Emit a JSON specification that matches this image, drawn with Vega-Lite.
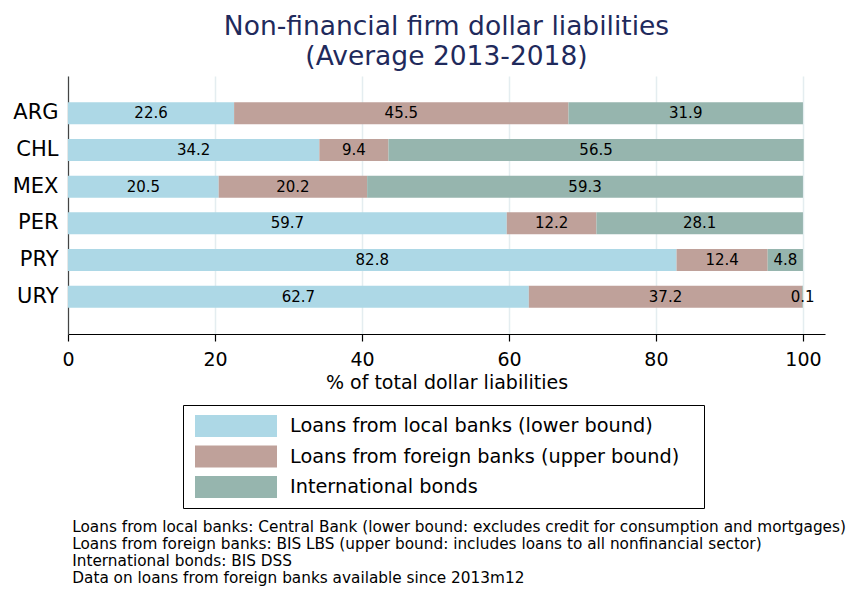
{
  "$schema": "https://vega.github.io/schema/vega-lite/v6.json",
  "background": "white",
  "padding": {"left": 12, "top": 13, "right": 0, "bottom": 0},
  "config": {
    "font": "DejaVu Sans",
    "view": {"stroke": null},
    "concat": {"spacing": 0}
  },
  "title": {
    "text": [
      "Loans from local banks: Central Bank (lower bound: excludes credit for consumption and mortgages)",
      "Loans from foreign banks: BIS LBS (upper bound: includes loans to all nonfinancial sector)",
      "International bonds: BIS DSS",
      "Data on loans from foreign banks available since 2013m12"
    ],
    "orient": "bottom",
    "anchor": "start",
    "frame": "bounds",
    "dx": 60,
    "offset": 11,
    "fontSize": 15.3,
    "fontWeight": "normal",
    "color": "black",
    "lineHeight": 17.3,
    "font": "DejaVu Sans"
  },
  "vconcat": [
    {
      "title": {
        "text": ["Non-financial firm dollar liabilities", "(Average 2013-2018)"],
        "fontSize": 26.5,
        "fontWeight": "normal",
        "color": "#1f2a5c",
        "lineHeight": 30,
        "anchor": "middle",
        "frame": "group",
        "offset": 6,
        "font": "DejaVu Sans"
      },
      "width": 757,
      "height": 258,
      "data": {
        "values": [
          {"country": "ARG", "source": "Loans from local banks (lower bound)", "k": 1, "share": 22.6},
          {"country": "ARG", "source": "Loans from foreign banks (upper bound)", "k": 2, "share": 45.5},
          {"country": "ARG", "source": "International bonds", "k": 3, "share": 31.9},
          {"country": "CHL", "source": "Loans from local banks (lower bound)", "k": 1, "share": 34.2},
          {"country": "CHL", "source": "Loans from foreign banks (upper bound)", "k": 2, "share": 9.4},
          {"country": "CHL", "source": "International bonds", "k": 3, "share": 56.5},
          {"country": "MEX", "source": "Loans from local banks (lower bound)", "k": 1, "share": 20.5},
          {"country": "MEX", "source": "Loans from foreign banks (upper bound)", "k": 2, "share": 20.2},
          {"country": "MEX", "source": "International bonds", "k": 3, "share": 59.3},
          {"country": "PER", "source": "Loans from local banks (lower bound)", "k": 1, "share": 59.7},
          {"country": "PER", "source": "Loans from foreign banks (upper bound)", "k": 2, "share": 12.2},
          {"country": "PER", "source": "International bonds", "k": 3, "share": 28.1},
          {"country": "PRY", "source": "Loans from local banks (lower bound)", "k": 1, "share": 82.8},
          {"country": "PRY", "source": "Loans from foreign banks (upper bound)", "k": 2, "share": 12.4},
          {"country": "PRY", "source": "International bonds", "k": 3, "share": 4.8},
          {"country": "URY", "source": "Loans from local banks (lower bound)", "k": 1, "share": 62.7},
          {"country": "URY", "source": "Loans from foreign banks (upper bound)", "k": 2, "share": 37.2},
          {"country": "URY", "source": "International bonds", "k": 3, "share": 0.1}
        ]
      },
      "encoding": {
        "y": {
          "field": "country",
          "type": "nominal",
          "sort": ["ARG", "CHL", "MEX", "PER", "PRY", "URY"],
          "scale": {"paddingInner": 0.4, "paddingOuter": 0.715},
          "axis": {
            "title": null,
            "ticks": false,
            "tickSize": 0,
            "grid": false,
            "domainColor": "#444444",
            "domainWidth": 1.2,
            "labelFontSize": 21,
            "labelColor": "black",
            "labelPadding": 10,
            "labelFont": "DejaVu Sans"
          }
        }
      },
      "layer": [
        {
          "mark": {"type": "bar"},
          "encoding": {
            "x": {
              "field": "share",
              "type": "quantitative",
              "stack": "zero",
              "scale": {"domain": [0, 103], "nice": false},
              "axis": {
                "title": "% of total dollar liabilities",
                "values": [0, 20, 40, 60, 80, 100],
                "grid": true,
                "gridColor": "#e4edf0",
                "gridWidth": 1.5,
                "domainColor": "black",
                "domainWidth": 1.2,
                "tickColor": "black",
                "tickSize": 7,
                "tickWidth": 1.2,
                "labelFontSize": 19,
                "labelColor": "black",
                "labelPadding": 9,
                "labelFlush": false,
                "labelFont": "DejaVu Sans",
                "titleFontSize": 19,
                "titleFontWeight": "normal",
                "titleColor": "black",
                "titlePadding": 4,
                "titleFont": "DejaVu Sans"
              }
            },
            "color": {
              "field": "source",
              "type": "nominal",
              "scale": {
                "domain": ["Loans from local banks (lower bound)", "Loans from foreign banks (upper bound)", "International bonds"],
                "range": ["#add8e6", "#bfa19a", "#96b5ae"]
              },
              "legend": {
                "orient": "none",
                "legendX": 115,
                "legendY": 329,
                "direction": "vertical",
                "title": null,
                "padding": 10,
                "strokeColor": "black",
                "fillColor": "white",
                "cornerRadius": 0,
                "symbolType": "M-0.818,-1L6.636,-1L6.636,1L-0.818,1Z",
                "symbolSize": 484,
                "symbolStrokeWidth": 0,
                "symbolOpacity": 1,
                "labelFontSize": 19.3,
                "labelFont": "DejaVu Sans",
                "labelColor": "black",
                "labelOffset": 75,
                "labelLimit": 700,
                "rowPadding": 8.5,
                "labelExpr": "datum.label + '\u2800'"
              }
            },
            "order": {"field": "k", "type": "quantitative"}
          }
        },
        {
          "mark": {"type": "text", "fontSize": 15, "color": "black", "font": "DejaVu Sans"},
          "encoding": {
            "x": {"field": "share", "type": "quantitative", "stack": "zero", "bandPosition": 0.5},
            "detail": {"field": "source"},
            "order": {"field": "k", "type": "quantitative"},
            "text": {"field": "share", "type": "quantitative", "format": ".1f"}
          }
        }
      ]
    }
  ]
}
